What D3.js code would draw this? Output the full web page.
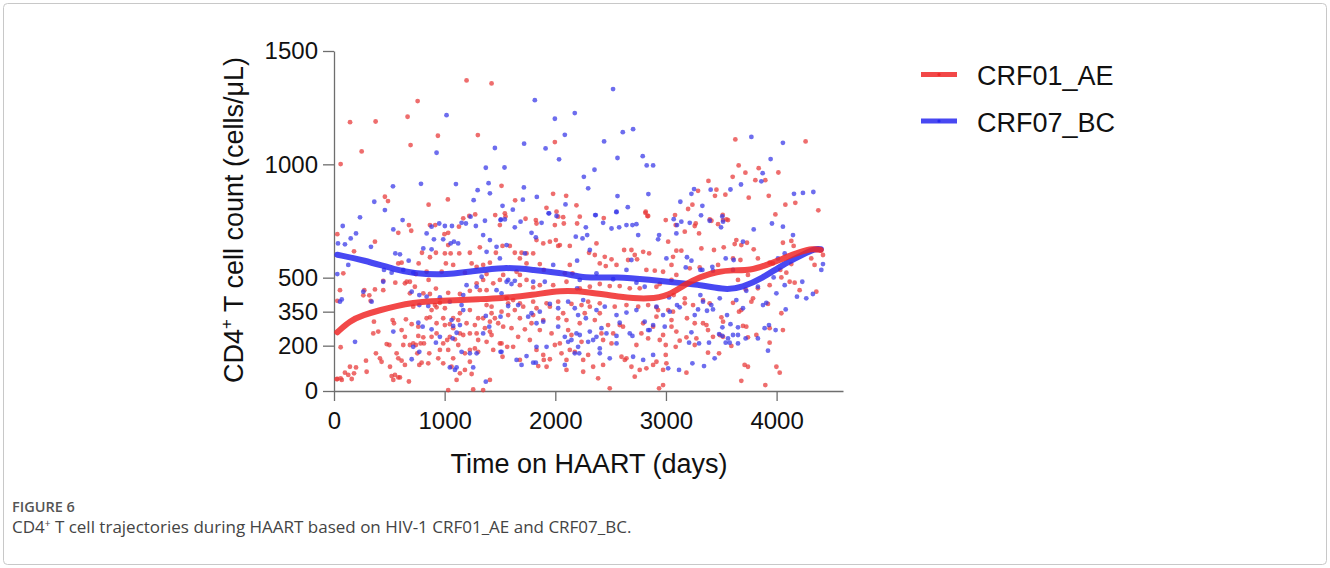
<!DOCTYPE html>
<html>
<head>
<meta charset="utf-8">
<script src="https://cdnjs.cloudflare.com/ajax/libs/d3/7.8.5/d3.min.js"></script>
<style>
  body { margin: 0; background: #ffffff; }
</style>
</head>
<body>
<div id="chart"></div>
<script>
// chart data: [days on HAART, CD4+ count]
var series_names = ["CRF01_AE", "CRF07_BC"];
var x_ticks = [0, 1000, 2000, 3000, 4000];
var y_ticks = [0, 200, 350, 500, 1000, 1500];

var crf01_points = [
  [60,1001],[145,1186],[250,1057],[376,1189],[665,1210],[756,1279],[692,1085],[939,1126],[1198,1370],[1424,1357],
  [1300,1129],[460,857],[488,838],[855,822],[1029,845],[1514,905],[1637,841],[1996,1098],[1980,870],[2098,861],
  [2191,819],[1920,808],[2011,791],[2071,767],[1168,762],[1276,779],[1457,776],[1550,770],[1731,760],
  [3627,1110],[4262,1101],[3657,995],[3838,983],[3718,963],[4016,964],[3603,945],[3384,927],[3456,888],[3290,883],
  [3443,861],[3537,866],[3808,930],[3898,930],[3748,853],[3929,861],[3239,822],[3200,803],[4079,822],[4169,830],
  [3989,779],[4377,797],[2814,786],[2832,772],[3082,776],[3513,777],[2438,763],[3396,757],[3547,757],
  [30,692],[84,519],[30,398],[54,445],[181,616],[274,445],[265,422],[319,422],[370,448],[331,398],
  [370,659],[445,486],[445,445],[581,698],[677,732],[698,707],[581,563],[611,566],[554,478],[657,482],
  [686,482],[740,516],[765,563],[795,610],[837,526],[867,590],[855,490],[867,732],[921,610],[915,732],
  [998,692],[1032,698],[1002,607],[1032,644],[1011,563],[973,526],[1054,607],[1077,556],[1129,725],[1132,607],
  [1183,522],[1222,772],[1228,610],[1244,563],[1289,548],[1318,634],[1348,556],[1379,516],[1348,490],[1289,475],
  [1409,566],[1463,610],[1499,732],[1499,490],[1439,475],[1318,445],[1379,445],[1228,442],[1138,428],[1032,433],
  [921,452],[867,428],[807,431],[731,460],[686,431],[641,475],
  [1523,640],[1589,640],[1634,610],[1695,610],[1740,607],[1800,607],[1830,739],[1824,754],[1830,666],[1891,651],
  [1951,659],[2005,666],[1996,732],[2026,769],[2077,739],[2041,644],[2131,640],[2197,739],[2221,769],[2305,610],
  [2372,651],[2357,600],[2402,563],[2447,592],[2456,551],[2508,581],[2553,556],[2622,622],[2658,578],[2688,622],
  [2718,600],[2739,581],[2794,614],[2848,607],[2823,534],[2899,531],[2974,526],[3050,556],[3020,659],[2998,754],
  [2817,791],[2839,772],[1680,585],[1740,563],[1860,560],[1896,534],[2131,556],[2086,519],[2155,519],[2221,453],
  [2312,460],[2402,472],[2492,463],[2582,463],[2673,453],[2763,453],[2914,460],[2944,472],[1529,512],[1650,526],
  [1680,512],[1740,490],[1680,467],[1800,457],[1860,467],[1981,467],[2101,482],[1560,409],[1619,401],[1544,784],
  [2026,640],
  [3411,751],[3516,754],[3561,754],[3471,736],[3269,739],[3260,728],[3299,695],[3170,703],[3088,732],[4057,654],
  [4133,662],[4154,640],[3636,666],[3681,644],[3732,654],[3621,648],[3793,625],[3522,634],[3434,622],[3320,629],
  [3094,619],[3139,619],[3064,592],[3606,585],[3673,578],[3831,585],[3937,566],[3967,563],[4033,534],[4133,560],
  [4313,585],[4343,556],[4419,600],[3471,556],[3305,545],[3215,541],[3050,490],[3094,512],[3651,490],[3741,512],
  [3831,453],[3937,467],[4043,501],[4088,522],[4118,482],[4163,478],[4208,445],[4359,438],[3720,448],[3787,409],
  [3170,409],[3335,401],[3070,423],
  [30,53],[70,49],[99,81],[129,71],[144,107],[181,78],[160,53],[199,104],[60,193],[289,134],
  [295,85],[379,166],[415,144],[430,129],[355,254],[400,262],[361,306],[476,207],[500,203],[506,107],
  [521,66],[536,49],[581,60],[596,60],[551,71],[677,42],[530,313],[542,299],[611,269],[650,316],
  [702,295],[641,239],[686,203],[626,203],[716,210],[566,166],[581,144],[611,134],[641,115],[771,115],
  [792,125],[852,122],[861,166],[753,166],[740,203],[783,210],[813,210],[807,237],[762,243],[716,372],
  [762,284],[837,321],[867,325],[882,357],[912,379],[927,369],[957,389],[987,210],[942,144],[957,181],
  [1032,181],[1023,225],[1047,239],[1093,228],[1123,203],[1138,254],[1168,247],[1077,277],[1123,313],[1047,295],
  [1002,291],[927,299],[927,254],[882,239],[987,122],[1077,144],[1062,107],[1108,49],[1138,78],[1183,93],
  [1228,129],[1183,166],[1228,181],[1273,188],[1303,173],[1228,254],[1289,254],[1303,225],[1364,277],[1409,262],
  [1424,247],[1379,217],[1439,181],[1499,210],[1409,49],[1348,4],[1258,7],[1032,4],[1244,75],[1409,306],
  [1454,321],[1484,299],[1424,343],[1303,321],[1228,357],[1138,343],[1077,321],[1002,365],[987,321],[1198,299],
  [1273,291],[1348,321],[1379,379],[1424,372],[24,52],[60,56],
  [1514,350],[1529,284],[1514,210],[1523,151],[1574,335],[1604,277],[1619,195],[1634,357],[1664,239],[1680,321],
  [1710,372],[1725,272],[1770,225],[1785,299],[1800,335],[1830,365],[1860,269],[1891,159],[1896,137],[1951,140],
  [1921,107],[1846,110],[1891,313],[1951,372],[1966,254],[1996,203],[2041,210],[2026,321],[2071,343],[2101,313],
  [2116,269],[2146,247],[2131,181],[2176,173],[2252,137],[2237,217],[2221,299],[2266,343],[2312,372],[2357,313],
  [2402,343],[2417,254],[2432,225],[2477,291],[2508,210],[2523,254],[2582,291],[2612,284],[2598,151],[2643,144],
  [2628,137],[2688,107],[2733,203],[2718,63],[2763,93],[2778,254],[2794,299],[2839,232],[2884,284],[2914,328],
  [2929,357],[2944,225],[2974,247],[2998,203],[2998,159],[2914,129],[2884,115],[2823,100],[3004,122],[2974,93],
  [2938,12],[2974,26],[2492,12],[2387,56],[2432,115],[2342,107],[2297,159],[2101,93],[2252,85],[2101,137],
  [2056,166],[1830,181],[1680,137],[1565,195],[1574,387],[1680,387],[1800,394],[1921,387],[2026,394],[2146,384],
  [2237,379],[2297,394],[2402,387],[2537,372],[2643,379],[2749,372],[2839,379],[2914,369],[3020,357],[3050,313],
  [3064,350],[3050,284],[3094,262],[3088,195],[3124,222],[3185,237],[3190,321],[3170,387],[3260,299],[3245,379],
  [3275,232],[3260,203],[3335,299],[3366,291],[3395,387],[3380,269],[3425,239],[3380,169],[3480,166],[3486,247],
  [3516,239],[3501,325],[3516,306],[3606,389],[3660,350],[3681,357],[3696,287],[3726,284],[3741,237],[3817,247],
  [3772,394],[3922,384],[4043,343],[4057,269],[3937,277],[3937,213],[3591,199],[3711,115],[3741,107],[3998,107],
  [4028,81],[3681,45],[3898,26],[3185,81]
];

var crf07_points = [
  [235,766],[364,835],[460,798],[533,903],[786,914],[1017,1217],[927,1051],[1102,913],[1262,842],[1298,886],
  [1397,917],[1409,872],[1372,985],[1541,986],[1454,1072],[1523,817],[1616,800],[1718,1091],[1815,1283],[1716,898],
  [1707,844],[1833,856],[1912,1070],[1996,1201],[2086,1130],[2176,1226],[2034,1022],[2092,823],[1939,784],[2011,772],
  [2258,945],[2297,894],[1234,769],[1508,757],[1544,757],
  [2522,1332],[2441,1101],[2610,1142],[2703,1155],[2562,1028],[2790,1036],[2826,995],[2884,995],[2354,976],[2562,860],
  [2841,869],[2655,811],[2552,789],[2360,776],[3130,835],[3230,870],[3254,891],[3404,888],[3329,817],[3317,775],
  [3583,889],[3678,911],[3772,1121],[3946,1023],[3874,961],[3862,925],[4057,1095],[4157,870],[4238,874],[4332,878],
  [3509,770],[3070,758],
  [79,728],[36,651],[99,647],[129,556],[30,516],[199,695],[151,673],[334,636],[536,713],[620,754],
  [554,607],[596,603],[675,575],[452,534],[521,522],[626,534],[717,522],[837,695],[882,725],[951,739],
  [1002,728],[1066,728],[1153,742],[1192,739],[1282,728],[1364,751],[1505,754],[807,629],[882,625],[903,669],
  [987,669],[1054,651],[1084,659],[1122,651],[1348,688],[1379,614],[1409,666],[1469,636],[1334,504],[1198,467],
  [1289,460],[445,482],[265,438],[702,438],[771,423],[837,416],[957,413],[70,404],[1168,423],[1469,445],
  [1514,431],
  [1634,722],[1686,747],[1785,698],[1824,678],[1876,742],[1944,784],[1725,607],[1560,644],[2185,681],[2246,673],
  [2276,722],[2288,688],[2366,776],[2432,742],[2508,717],[2553,791],[2577,722],[2643,732],[2697,732],[2733,736],
  [2749,688],[2938,688],[2929,669],[3004,585],[2312,622],[2197,575],[1981,556],[2372,519],[2688,578],[2643,534],
  [2523,493],[1574,490],[1634,486],[1604,472],[1560,482],[1800,482],[1905,482],[2221,490],[2197,453],[2252,401],
  [2733,478],[3028,413],[2808,460],[1499,585],
  [3215,742],[3395,751],[3100,732],[3139,747],[3094,695],[3516,747],[3498,722],[3793,713],[3958,739],[4057,725],
  [4148,688],[3190,590],[3230,575],[3179,545],[3329,534],[3419,548],[3425,531],[3540,585],[3612,578],[3696,659],
  [3606,534],[4012,585],[4073,607],[3973,501],[4073,467],[4232,482],[4419,560],[4404,534],[4184,416],[4268,409],
  [4328,428],[3998,431],[3831,460],[3726,442],[3636,401],[3486,409],[3311,423],[3311,534],
  [190,217],[536,262],[762,301],[801,284],[882,272],[921,213],[957,239],[716,195],[771,173],[702,140],
  [1062,313],[1077,287],[1138,291],[1108,257],[1072,232],[1153,173],[1228,166],[1289,166],[1348,254],[1372,331],
  [1403,284],[1505,328],[1505,173],[1047,104],[1093,93],[1108,104],[1258,104],[1372,41],[771,379],[852,375],
  [1153,379],[1168,357],[1047,394],[340,394],[54,394],
  [1514,173],[1650,137],[1695,115],[1740,154],[1800,125],[1824,125],[1830,195],[1921,195],[1574,375],[1664,379],
  [1755,328],[1785,343],[1830,299],[1891,306],[1951,384],[2026,284],[2086,115],[2116,217],[2146,225],[2191,254],
  [2206,195],[2216,166],[2176,166],[2221,247],[2297,217],[2342,225],[2402,188],[2402,166],[2372,239],[2312,262],
  [2417,277],[2462,254],[2492,144],[2553,243],[2553,335],[2582,301],[2643,346],[2673,254],[2697,243],[2733,357],
  [2808,306],[2839,269],[2853,269],[2884,291],[2914,372],[2974,335],[2989,284],[3034,350],[2794,137],[2884,159],
  [3020,100],[2703,151],[2206,335],[2176,365],[2372,357],[2116,394],[2447,372],[2276,321],[2026,365],[2086,239],
  [2553,210],[1860,350],
  [3124,369],[3100,379],[3260,335],[3290,360],[3335,394],[3371,354],[3425,360],[3410,379],[3552,335],[3583,295],
  [3510,281],[3480,251],[3510,243],[3561,232],[3606,247],[3651,247],[3651,281],[3720,232],[3831,232],[3540,213],
  [3576,213],[3651,210],[3389,213],[3299,210],[3209,213],[3230,259],[3440,144],[3344,110],[3239,122],[3118,93],
  [3922,178],[3892,277],[3931,291],[3991,269],[4082,360],[3877,379],[3907,389],[3696,365]
];

// smoothed trajectories
var crf01_trend = [
  [30,259],[144,310],[265,335],[415,357],[566,375],[716,389],[867,397],[1100,400],[1300,405],[1500,409],
  [1800,423],[2040,445],[2300,438],[2600,413],[2850,404],[3034,423],[3160,467],[3310,504],[3460,526],[3610,534],
  [3760,531],[3910,556],[4060,585],[4210,614],[4330,629],[4400,622]
];
var crf07_trend = [
  [30,601],[265,578],[565,534],[715,520],[960,511],[1230,526],[1540,548],[1800,534],[2100,519],[2250,497],
  [2560,504],[2860,490],[3090,478],[3330,467],[3540,445],[3690,457],[3870,497],[4050,556],[4230,600],[4350,629],
  [4400,625]
];

var point_colors = ["#e83c3c", "#3c3ce8"];
var line_colors = ["#f02828", "#2828f0"];

var svg = d3.select("#chart")
            .append("svg")
            .attr("width", 1330)
            .attr("height", 568);

// light frame round the figure
svg.append("rect")
   .attr("x", 3.5)
   .attr("y", 3.5)
   .attr("width", 1323)
   .attr("height", 561)
   .attr("rx", 4)
   .attr("fill", "none")
   .attr("stroke", "#c8c8c8")
   .attr("stroke-width", 1);

var x = d3.scaleLinear().domain([0, 4600]).range([334, 843]);
var y = d3.scaleLinear().domain([0, 1500]).range([391, 51]);

var axis_font = "'Liberation Sans', Arial, sans-serif";

// axes
var x_axis = svg.append("g")
   .attr("transform", "translate(0,391)")
   .call(d3.axisBottom(x).tickValues(x_ticks).tickFormat(d3.format("d"))
           .tickSize(10).tickSizeOuter(0).tickPadding(11));

var y_axis = svg.append("g")
   .attr("transform", "translate(334,0)")
   .call(d3.axisLeft(y).tickValues(y_ticks).tickFormat(d3.format("d"))
           .tickSize(11).tickSizeOuter(0).tickPadding(5));

[x_axis, y_axis].forEach(function(g) {
  g.select(".domain").attr("stroke", "#6e6e6e").attr("stroke-width", 1.3);
  g.selectAll(".tick line").attr("stroke", "#6e6e6e").attr("stroke-width", 1.3);
  g.selectAll(".tick text")
   .style("font-family", axis_font)
   .style("font-size", "24px")
   .attr("fill", "#111");
});

// scatter points
svg.append("g").selectAll("circle")
   .data(crf01_points)
   .enter()
   .append("circle")
   .attr("cx", function(d) { return x(d[0]); })
   .attr("cy", function(d) { return y(d[1]); })
   .attr("r", 2.4)
   .attr("fill", point_colors[0])
   .attr("fill-opacity", 0.75);

svg.append("g").selectAll("circle")
   .data(crf07_points)
   .enter()
   .append("circle")
   .attr("cx", function(d) { return x(d[0]); })
   .attr("cy", function(d) { return y(d[1]); })
   .attr("r", 2.4)
   .attr("fill", point_colors[1])
   .attr("fill-opacity", 0.75);

// trend lines
var trend = d3.line()
   .x(function(d) { return x(d[0]); })
   .y(function(d) { return y(d[1]); })
   .curve(d3.curveBasis);

svg.append("path")
   .attr("d", trend(crf07_trend))
   .attr("fill", "none")
   .attr("stroke", line_colors[1])
   .attr("stroke-width", 6)
   .attr("stroke-opacity", 0.85)
   .attr("stroke-linecap", "round");

svg.append("path")
   .attr("d", trend(crf01_trend))
   .attr("fill", "none")
   .attr("stroke", line_colors[0])
   .attr("stroke-width", 6)
   .attr("stroke-opacity", 0.85)
   .attr("stroke-linecap", "round");

// axis titles
svg.append("text")
   .attr("x", 589)
   .attr("y", 473)
   .attr("text-anchor", "middle")
   .style("font-family", axis_font)
   .style("font-size", "27px")
   .attr("fill", "#111")
   .text("Time on HAART (days)");

var y_title = svg.append("text")
   .attr("transform", "translate(243,220) rotate(-90)")
   .attr("text-anchor", "middle")
   .style("font-family", axis_font)
   .style("font-size", "27px")
   .attr("fill", "#111");
y_title.append("tspan").text("CD4");
y_title.append("tspan").attr("dy", -11).style("font-size", "17px").text("+");
y_title.append("tspan").attr("dy", 11).text(" T cell count (cells/\u03bcL)");

// legend
var legend = svg.selectAll("legend_rows")
   .data(series_names)
   .enter()
   .append("g")
   .attr("transform", function(d, i) { return "translate(0," + (74.5 + i * 46.5) + ")"; });

legend.append("line")
   .attr("x1", 921)
   .attr("x2", 957)
   .attr("y1", 0)
   .attr("y2", 0)
   .attr("stroke", function(d, i) { return line_colors[i]; })
   .attr("stroke-width", 5)
   .attr("stroke-opacity", 0.85);

legend.append("circle")
   .attr("cx", 939)
   .attr("cy", 0)
   .attr("r", 1.6)
   .attr("fill", function(d, i) { return line_colors[i]; });

legend.append("text")
   .attr("x", 977)
   .attr("y", 10.5)
   .style("font-family", axis_font)
   .style("font-size", "27px")
   .attr("fill", "#111")
   .text(function(d) { return d; });

// caption
svg.append("text")
   .attr("x", 12)
   .attr("y", 512)
   .style("font-family", "'Open Sans', 'Noto Sans', sans-serif")
   .style("font-size", "14.5px")
   .style("font-weight", 600)
   .attr("fill", "#555")
   .text("FIGURE 6");

var caption = svg.append("text")
   .attr("x", 12)
   .attr("y", 533)
   .style("font-family", "'Open Sans', 'Noto Sans', sans-serif")
   .style("font-size", "17px")
   .attr("fill", "#444");
caption.append("tspan").text("CD4");
caption.append("tspan").attr("dy", -6).style("font-size", "10px").text("+");
caption.append("tspan").attr("dy", 6).text(" T cell trajectories during HAART based on HIV-1 CRF01_AE and CRF07_BC.");
</script>
</body>
</html>
